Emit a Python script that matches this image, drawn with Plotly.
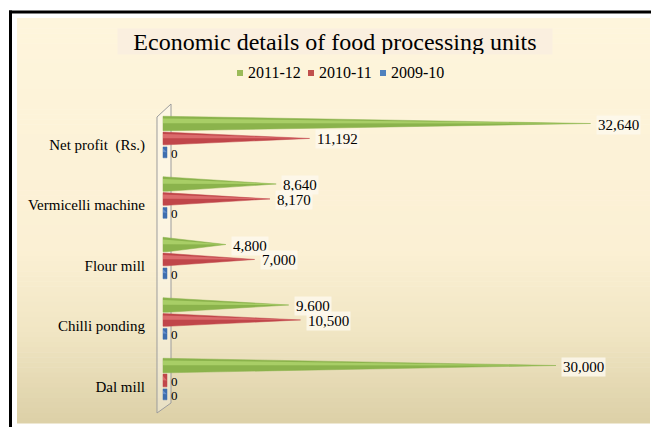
import plotly.graph_objects as go

# ---------------- data ----------------
categories = ["Dal mill", "Chilli ponding", "Flour mill", "Vermicelli machine", "Net profit\u00a0 (Rs.)"]
series_names = ["2011-12", "2010-11", "2009-10"]
values_2011_12 = [30000, 9600, 4800, 8640, 32640]
values_2010_11 = [0, 10500, 7000, 8170, 11192]
values_2009_10 = [0, 0, 0, 0, 0]
labels_2011_12 = ["30,000", "9.600", "4,800", "8,640", "32,640"]
labels_2010_11 = ["0", "10,500", "7,000", "8,170", "11,192"]
labels_2009_10 = ["0", "0", "0", "0", "0"]

# ---------------- geometry helpers ----------------
W, H = 651, 427
def pxx(x):
    return x / W
def pxy(y):
    return 1 - y / H

K = 0.0131            # pixels per unit on the x axis
X0 = 163              # pixel of zero
PLOT_L, PLOT_T, PLOT_B = 150, 102, 423
x_range = [(PLOT_L - X0) / K, (W - X0) / K]
UNIT_Y = 60.5
TICK4_PX = 144.5
y_range = [4 - (PLOT_B - TICK4_PX) / UNIT_Y, 4 + (TICK4_PX - PLOT_T) / UNIT_Y]
cap = 4 / K

series = [
    (series_names[0], values_2011_12, labels_2011_12, "#8BB34C", "#A8CE66", 0.347, 0.12),
    (series_names[1], values_2010_11, labels_2010_11, "#C0464A", "#DB6B6C", 0.10, 0.105),
    (series_names[2], values_2009_10, labels_2009_10, "#3F6FAE", "#6690CC", -0.13, 0.09),
]

fig = go.Figure()
annotations = []
for name, vals, labs, col, hi, off, hh in series:
    xs, ys, hx, hy = [], [], [], []
    for i, v in enumerate(vals):
        yc = i + off
        tip = max(v, cap)
        xs += [0, cap, tip, cap, 0, 0, None]
        ys += [yc - hh, yc - hh, yc, yc + hh, yc + hh, yc - hh, None]
        hx += [0, tip, 0, 0, None]
        hy += [yc + 0.05 * hh, yc, yc + 0.7 * hh, yc + 0.05 * hh, None]
        annotations.append(dict(
            x=tip, y=yc, xref="x", yref="y", text=labs[i], showarrow=False,
            xanchor="left", yanchor="middle", xshift=5 if v > 0 else 2, yshift=-1,
            font=dict(family="Liberation Serif", size=15 if v > 0 else 13, color="black"),
            bgcolor="rgba(253,248,236,0.85)" if v > 0 else None, borderpad=1,
        ))
    fig.add_trace(go.Scatter(x=xs, y=ys, fill="toself", mode="lines", fillcolor=col,
                             line=dict(color=col, width=0.5), name=name, showlegend=False,
                             hoverinfo="skip"))
    fig.add_trace(go.Scatter(x=hx, y=hy, fill="toself", mode="lines", fillcolor=hi,
                             line=dict(color=hi, width=0), showlegend=False, hoverinfo="skip"))

shapes = []
# background gradient bands
stops = [(18, (254, 245, 220)), (250, (251, 240, 212)), (330, (241, 230, 196)), (423, (220, 208, 167))]
nb = 80
top, bot = 18, 423
for j in range(nb):
    y0 = top + (bot - top) * j / nb
    y1 = top + (bot - top) * (j + 1) / nb
    ym = (y0 + y1) / 2
    for s in range(len(stops) - 1):
        if stops[s][0] <= ym <= stops[s + 1][0]:
            t = (ym - stops[s][0]) / (stops[s + 1][0] - stops[s][0])
            c = tuple(round(stops[s][1][k] + t * (stops[s + 1][1][k] - stops[s][1][k])) for k in range(3))
            break
    shapes.append(dict(type="rect", xref="paper", yref="paper", layer="below",
                       x0=pxx(17), x1=pxx(650), y0=pxy(y1 + 0.5), y1=pxy(y0),
                       fillcolor="rgb(%d,%d,%d)" % c, line=dict(width=0)))
# outer black border (top and left edges visible)
shapes.append(dict(type="line", xref="paper", yref="paper", layer="above",
                   x0=pxx(9), x1=1, y0=pxy(12), y1=pxy(12), line=dict(color="black", width=3)))
shapes.append(dict(type="line", xref="paper", yref="paper", layer="above",
                   x0=pxx(10.5), x1=pxx(10.5), y0=pxy(10.5), y1=0, line=dict(color="black", width=3)))
# 3D wall
wall = "M %f,%f L %f,%f L %f,%f L %f,%f Z" % (
    pxx(157), pxy(117), pxx(171), pxy(104), pxx(171), pxy(403), pxx(157), pxy(413))
shapes.append(dict(type="path", xref="paper", yref="paper", layer="below", path=wall,
                   fillcolor="rgba(255,255,255,0.3)", line=dict(color="#9C9C9C", width=1)))

# title
annotations.append(dict(x=pxx(335), y=pxy(41), xref="paper", yref="paper", showarrow=False,
                        text="Economic details of food processing units", width=434, height=25,
                        bgcolor="#FAEFDF", borderpad=0, xanchor="center", yanchor="middle",
                        font=dict(family="Liberation Serif", size=24, color="black")))
# legend
leg_colors = ["#9BBB59", "#C0504D", "#4F81BD"]
leg_x = [237, 308, 380]
for name, col, lx in zip(series_names, leg_colors, leg_x):
    shapes.append(dict(type="rect", xref="paper", yref="paper", layer="above",
                       x0=pxx(lx), x1=pxx(lx + 6), y0=pxy(76), y1=pxy(70),
                       fillcolor=col, line=dict(width=0)))
    annotations.append(dict(x=pxx(lx + 9), y=pxy(73), xref="paper", yref="paper", showarrow=False,
                            text=name, xanchor="left", yanchor="middle",
                            font=dict(family="Liberation Serif", size=16, color="black")))

fig.update_layout(
    width=W, height=H, margin=dict(l=0, r=0, t=0, b=0),
    paper_bgcolor="white", plot_bgcolor="rgba(0,0,0,0)",
    showlegend=False, shapes=shapes, annotations=annotations,
    xaxis=dict(domain=[pxx(PLOT_L), 1], range=x_range, visible=False, fixedrange=True),
    yaxis=dict(domain=[pxy(PLOT_B), pxy(PLOT_T)], range=y_range, tickvals=list(range(len(categories))),
               ticktext=categories, showgrid=False, zeroline=False, showline=False, ticks="",
               ticklabelstandoff=4,
               tickfont=dict(family="Liberation Serif", size=15, color="black"), fixedrange=True),
)
fig.write_html("out.html")
